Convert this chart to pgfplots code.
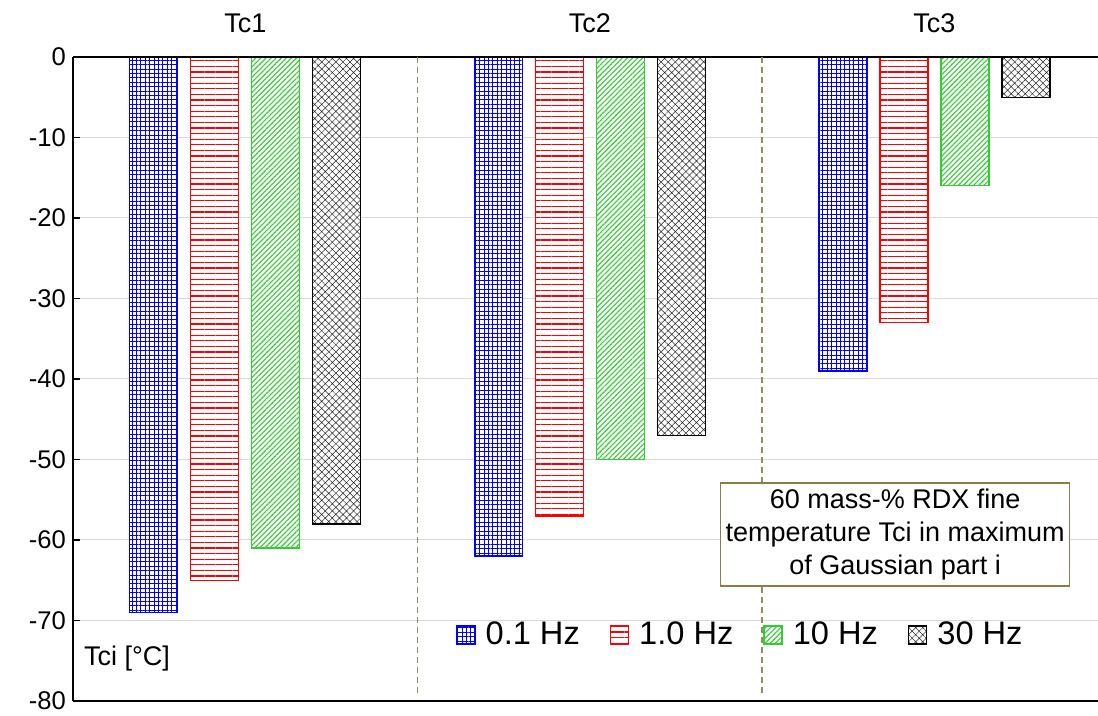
\documentclass[border=0pt]{standalone}
\usepackage{fontspec}
\setmainfont{Liberation Sans}
\usepackage{pgfplots}
\pgfplotsset{compat=1.18}
\usetikzlibrary{patterns.meta}
\definecolor{sepc}{RGB}{150,140,100}
\definecolor{grn}{RGB}{51,204,51}
\definecolor{boxc}{RGB}{140,125,70}
\begin{document}
\begin{tikzpicture}
\useasboundingbox (-36.5pt,-7.5pt) rectangle (512.5pt,350.5pt);
\begin{axis}[
  at={(0pt,0pt)}, anchor=south west,
  scale only axis, width=512.5pt, height=322pt,
  xmin=0.5, xmax=3.475, ymin=-80, ymax=0,
  clip=false,
  axis lines=left, axis line style={-, black, line width=0.8pt},
  xtick=\empty,
  ytick={-80,-70,...,0},
  ymajorgrids, grid style={draw=black!15, line width=0.5pt},
  tick align=inside, major tick length=3.5pt,
  tick style={black, line width=0.8pt},
  yticklabel style={font=\fontsize{12.8}{14}\selectfont},
  /pgf/number format/assume math mode=true,
  ybar=6.5pt, bar width=24pt,
  legend style={at={(axis cs:2.44,-71.8)}, anchor=center, legend columns=4,
    draw=none, fill=none, font=\fontsize{16.3}{18}\selectfont,
    /tikz/every odd column/.append style={column sep=3pt},
    /tikz/every even column/.append style={column sep=13pt}},
  legend image code/.code={\draw[#1] (0pt,-4.5pt) rectangle (9pt,4.5pt);},
]
\addplot[draw=blue, line width=0.7pt, fill=white, postaction={pattern={Hatch[angle=0,distance=2.2pt,line width=0.5pt]}, pattern color=blue}]
  coordinates {(1,-69) (2,-62) (3,-39)};
\addplot[draw=red, line width=0.7pt, fill=white, postaction={pattern={Lines[angle=0,distance=2.8pt,line width=0.55pt]}, pattern color=red}]
  coordinates {(1,-65) (2,-57) (3,-33)};
\addplot[draw=grn, line width=0.7pt, fill=white, postaction={pattern={Lines[angle=45,distance=1.8pt,line width=0.55pt]}, pattern color=grn}]
  coordinates {(1,-61) (2,-50) (3,-16)};
\addplot[draw=black, line width=0.7pt, fill=white, postaction={pattern={Hatch[angle=45,distance=2.5pt,line width=0.25pt]}, pattern color=black!85}]
  coordinates {(1,-58) (2,-47) (3,-5)};
\legend{0.1 Hz, 1.0 Hz, 10 Hz, 30 Hz}
\draw[black, line width=0.8pt] (axis cs:0.5,0) -- (axis cs:3.475,0);
\draw[sepc, line width=0.8pt, dash pattern=on 3pt off 2pt] (axis cs:1.5,0) -- (axis cs:1.5,-79.3);
\draw[sepc, line width=0.8pt, dash pattern=on 3pt off 2pt] (axis cs:2.5,0) -- (axis cs:2.5,-79.3);
\node[font=\fontsize{13.5}{16}\selectfont, anchor=base] at ([yshift=12pt]axis cs:1,0) {Tc1};
\node[font=\fontsize{13.5}{16}\selectfont, anchor=base] at ([yshift=12pt]axis cs:2,0) {Tc2};
\node[font=\fontsize{13.5}{16}\selectfont, anchor=base] at ([yshift=12pt]axis cs:3,0) {Tc3};
\node[font=\fontsize{13.5}{16}\selectfont] at (axis cs:0.657,-74.7) {Tci [°C]};
\node[draw=boxc, line width=0.8pt, fill=white, align=center, minimum width=174.5pt, minimum height=49pt, inner xsep=1pt, inner ysep=3pt, font=\fontsize{13.5}{16.5}\selectfont] at (axis cs:2.886,-59.3) {60 mass-\% RDX fine\\temperature Tci in maximum\\of Gaussian part i};
\end{axis}
\end{tikzpicture}
\end{document}
